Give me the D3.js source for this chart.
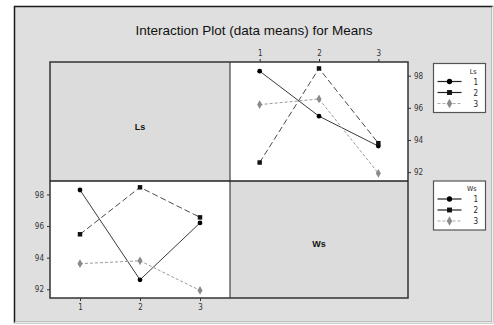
<!DOCTYPE html>
<html>
<head>
<meta charset="utf-8">
<script src="https://cdn.jsdelivr.net/npm/d3@7"></script>
<style>
  body { margin: 0; background: #fff; }
  svg { display: block; }
</style>
</head>
<body>
<div id="plot"></div>
<script>
// means of the response, one array per Ls level, values at Ws = 1, 2, 3
var levels = ["1", "2", "3"];
var ls1 = [98.28, 95.48, 93.62];
var ls2 = [92.60, 98.45, 93.80];
var ls3 = [96.20, 96.55, 91.93];
var yTicks = [92, 94, 96, 98];
var yDomain = [91.45, 98.85];
var chartTitle = "Interaction Plot (data means) for Means";

var lsMeans = [ls1, ls2, ls3];
// same cells read the other way: one array per Ws level, values at Ls = 1, 2, 3
var wsMeans = levels.map(function(l, j) {
    return lsMeans.map(function(row) { return row[j]; });
});

var width = 494, height = 325;
var gLeft = 50, gMid = 230, gRight = 408;
var gTop = 62, gHmid = 181, gBottom = 298;

var styles = [
    {stroke: "#3a3a3a", dash: null, sym: d3.symbolCircle, size: 18, fill: "#000"},
    {stroke: "#4a4a4a", dash: "6,3", sym: d3.symbolSquare, size: 20, fill: "#111"},
    {stroke: "#9a9a9a", dash: "3,2", sym: d3.symbolDiamond, size: 22, fill: "#8a8a8a"}
];

var svg = d3.select("#plot")
    .append("svg")
    .attr("width", width)
    .attr("height", height)
    .style("font-family", "'Liberation Sans', Arial, sans-serif");

// outer gray frame
svg.append("rect")
    .attr("x", 14.5).attr("y", 6.5)
    .attr("width", 478).attr("height", 316)
    .attr("fill", "#dfdfdf")
    .attr("stroke", "#1a1a1a")
    .attr("stroke-width", 1.5);
// the right and bottom edges are only faint in the picture
svg.append("path")
    .attr("d", "M492.5,6.5V322.5H14.5")
    .attr("fill", "none")
    .attr("stroke", "#ececec")
    .attr("stroke-width", 1.5);

svg.append("text")
    .attr("x", 254).attr("y", 35)
    .attr("text-anchor", "middle")
    .style("font-size", "13.5px")
    .style("fill", "#111")
    .text(chartTitle);

// panels
svg.append("rect").attr("x", gLeft).attr("y", gTop)
    .attr("width", gMid - gLeft).attr("height", gHmid - gTop).attr("fill", "#dcdcdc");
svg.append("rect").attr("x", gMid).attr("y", gTop)
    .attr("width", gRight - gMid).attr("height", gHmid - gTop).attr("fill", "#fff");
svg.append("rect").attr("x", gLeft).attr("y", gHmid)
    .attr("width", gMid - gLeft).attr("height", gBottom - gHmid).attr("fill", "#fff");
svg.append("rect").attr("x", gMid).attr("y", gHmid)
    .attr("width", gRight - gMid).attr("height", gBottom - gHmid).attr("fill", "#dcdcdc");

svg.append("text").attr("x", (gLeft + gMid) / 2).attr("y", 130)
    .attr("text-anchor", "middle").style("font-size", "9px").style("font-weight", "bold")
    .style("fill", "#111").text("Ls");
svg.append("text").attr("x", (gMid + gRight) / 2).attr("y", 247)
    .attr("text-anchor", "middle").style("font-size", "9px").style("font-weight", "bold")
    .style("fill", "#111").text("Ws");

function drawPanel(x0, x1, y0, y1, series, xSide, ySide)
{
    var x = d3.scalePoint().domain(levels).range([x0, x1]).padding(0.5);
    var y = d3.scaleLinear().domain(yDomain).range([y1, y0]);

    var g = svg.append("g");

    series.forEach(function(vals, i) {
        var st = styles[i];
        var pts = levels.map(function(l, k) { return [x(l), y(vals[k])]; });
        g.append("path")
            .attr("d", d3.line()(pts))
            .attr("fill", "none")
            .attr("stroke", st.stroke)
            .attr("stroke-width", 1)
            .attr("stroke-dasharray", st.dash);
    });
    series.forEach(function(vals, i) {
        var st = styles[i];
        g.selectAll(null)
            .data(vals).enter()
            .append("path")
            .attr("d", d3.symbol().type(st.sym).size(st.size))
            .attr("transform", function(d, k) { return "translate(" + x(levels[k]) + "," + y(d) + ")"; })
            .attr("fill", st.fill);
    });

    var xAxis = (xSide == "top" ? d3.axisTop(x) : d3.axisBottom(x)).tickSize(3).tickPadding(3);
    var yAxis = (ySide == "right" ? d3.axisRight(y) : d3.axisLeft(y)).tickValues(yTicks).tickSize(3).tickPadding(3);

    var xa = g.append("g")
        .attr("transform", "translate(0," + (xSide == "top" ? y0 : y1) + ")")
        .call(xAxis);
    var ya = g.append("g")
        .attr("transform", "translate(" + (ySide == "right" ? x1 : x0) + ",0)")
        .call(yAxis);
    [xa, ya].forEach(function(a) {
        a.select(".domain").remove();
        a.selectAll("line").attr("stroke", "#333");
        a.selectAll("text").style("font-size", "8px").style("fill", "#333")
            .style("font-family", "'DejaVu Sans Condensed', 'DejaVu Sans', sans-serif");
    });
}

drawPanel(gMid, gRight, gTop, gHmid, lsMeans, "top", "right");
drawPanel(gLeft, gMid, gHmid, gBottom, wsMeans, "bottom", "left");

// grid lines over the panels
svg.append("rect").attr("x", gLeft).attr("y", gTop)
    .attr("width", gRight - gLeft).attr("height", gBottom - gTop)
    .attr("fill", "none").attr("stroke", "#333").attr("stroke-width", 1.5);
svg.append("line").attr("x1", gMid).attr("x2", gMid).attr("y1", gTop).attr("y2", gBottom)
    .attr("stroke", "#444").attr("stroke-width", 1.2);
svg.append("line").attr("x1", gLeft).attr("x2", gRight).attr("y1", gHmid).attr("y2", gHmid)
    .attr("stroke", "#222").attr("stroke-width", 1.5);

function drawLegend(bx, by, name)
{
    var g = svg.append("g").attr("transform", "translate(" + bx + "," + by + ")");
    g.append("rect")
        .attr("x", 0).attr("y", 0).attr("width", 52).attr("height", 49)
        .attr("fill", "#fff").attr("stroke", "#555").attr("stroke-width", 1.2);
    g.append("text").attr("x", 43).attr("y", 10).attr("text-anchor", "end")
        .style("font-size", "7px").style("fill", "#222")
        .style("font-family", "'DejaVu Sans Condensed', 'DejaVu Sans', sans-serif")
        .text(name);
    levels.forEach(function(l, i) {
        var st = styles[i];
        var yy = 18 + i * 11;
        g.append("line").attr("x1", 4).attr("x2", 28).attr("y1", yy).attr("y2", yy)
            .attr("stroke", i == 2 ? "#aaa" : "#222").attr("stroke-width", 1.2)
            .attr("stroke-dasharray", i == 2 ? "3,2" : null);
        g.append("path").attr("d", d3.symbol().type(st.sym).size(st.size + 4))
            .attr("transform", "translate(16," + yy + ")").attr("fill", st.fill);
        g.append("text").attr("x", 40).attr("y", yy + 3)
            .style("font-size", "8px").style("fill", "#222")
            .style("font-family", "'DejaVu Sans Condensed', 'DejaVu Sans', sans-serif")
            .text(l);
    });
}

drawLegend(433.5, 63.5, "Ls");
drawLegend(433.5, 181, "Ws");
</script>
</body>
</html>
